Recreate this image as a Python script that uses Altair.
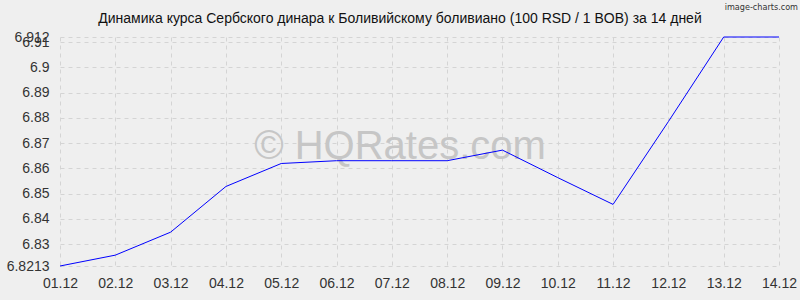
import altair as alt
import pandas as pd

dates = ["01.12", "02.12", "03.12", "04.12", "05.12", "06.12", "07.12",
         "08.12", "09.12", "10.12", "11.12", "12.12", "13.12", "14.12"]
values = [6.8213, 6.8256, 6.8347, 6.8528, 6.8619, 6.8630, 6.8630,
          6.8630, 6.8672, 6.8563, 6.8457, 6.8785, 6.912, 6.912]
y_ticks = [6.8213, 6.83, 6.84, 6.85, 6.86, 6.87, 6.88, 6.89, 6.9, 6.91, 6.912]
title_text = "Динамика курса Сербского динара к Боливийскому боливиано (100 RSD / 1 BOB) за 14 дней"
watermark = "© HQRates.com"
credit = "image-charts.com"

df = pd.DataFrame({"date": dates, "value": values})

FONT = "Liberation Sans"
W, H = 719, 229

x = alt.X("date:O", sort=dates, scale=alt.Scale(type="point", padding=0),
          axis=alt.Axis(title=None, labelAngle=0, labelFontSize=14, labelColor="#333333",
                        labelFont=FONT, labelPadding=10, ticks=False, domain=False,
                        labelOverlap=False,
                        grid=True, gridColor="#d4d4d4", gridDash=[4, 4]))
y = alt.Y("value:Q", scale=alt.Scale(domain=[6.8213, 6.912], zero=False, nice=False),
          axis=alt.Axis(title=None, values=y_ticks, format=".4~f", labelFontSize=14,
                        labelColor="#333333", labelFont=FONT, labelPadding=11,
                        labelOverlap=False, labelBound=False, labelFlush=False,
                        ticks=False, domain=False, grid=True, gridColor="#d4d4d4",
                        gridDash=[4, 4]))

base = alt.Chart(df)

wm = base.mark_text(font=FONT, fontSize=40, color="#c6c6c6", align="center",
                    baseline="alphabetic").encode(
    x=alt.value(340), y=alt.value(122), text=alt.value(watermark)
).transform_filter("datum.date == '01.12'")

line = base.mark_line(color="#0000ff", strokeWidth=1).encode(x=x, y=y)

title = base.mark_text(font=FONT, fontSize=14, color="#111111", align="center",
                       baseline="alphabetic").encode(
    x=alt.value(340), y=alt.value(-14), text=alt.value(title_text)
).transform_filter("datum.date == '01.12'")

cred = base.mark_text(font="DejaVu Sans Condensed", fontSize=9, color="#333333",
                      align="right", baseline="alphabetic").encode(
    x=alt.value(738), y=alt.value(-27), text=alt.value(credit)
).transform_filter("datum.date == '01.12'")

chart = alt.layer(wm, line, title, cred).properties(
    width=W, height=H,
    background="#efefef",
    padding={"left": 60, "top": 37, "right": 21, "bottom": 34},
    autosize=alt.AutoSizeParams(type="none"),
).configure_view(stroke=None)

chart.save("out.html", embed_options={"renderer": "svg", "actions": False})
